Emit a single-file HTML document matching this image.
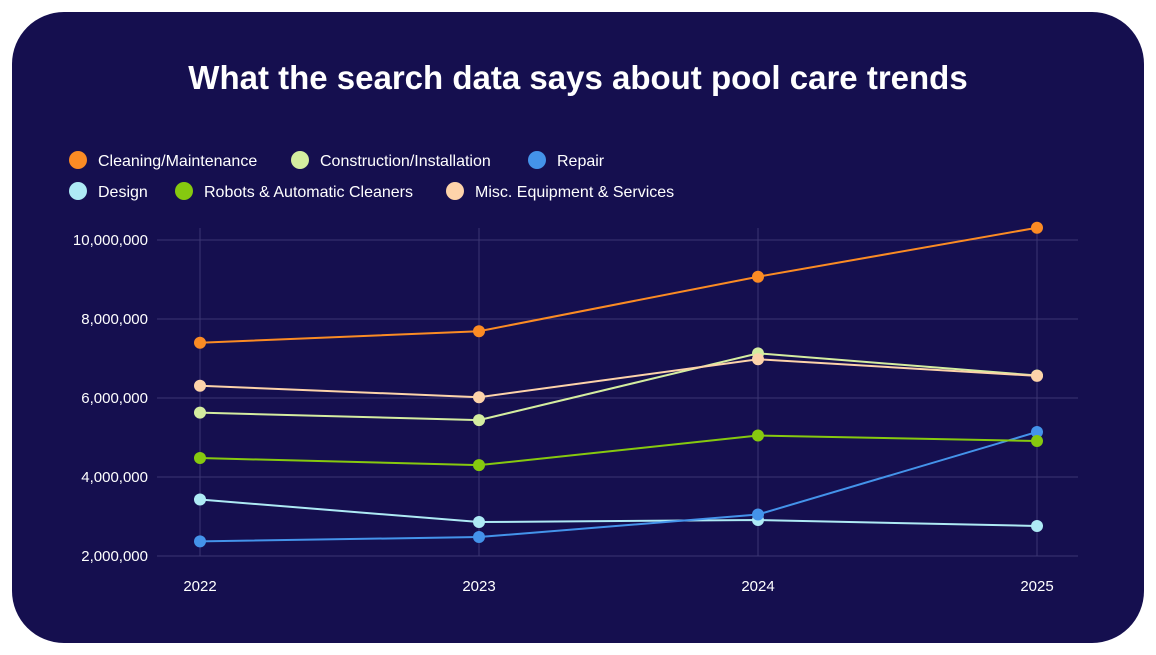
<!DOCTYPE html>
<html><head><meta charset="utf-8"><style>
html,body{margin:0;padding:0;background:#fff;width:1156px;height:655px;overflow:hidden}
#card{position:absolute;left:12px;top:12px;width:1132px;height:631px;background:#150f4f;border-radius:52px}
svg{position:absolute;left:0;top:0}
text{font-family:"Liberation Sans",sans-serif}
</style></head><body>
<div id="card"></div>
<svg id="chart" width="1156" height="655">
<text x="578" y="89" text-anchor="middle" fill="#fff" font-size="33" font-weight="bold">What the search data says about pool care trends</text>
<g id="legend"></g>
<g id="grid"></g>
<g id="axes"></g>
<g id="series"></g>
</svg>
<script>
const years = ["2022","2023","2024","2025"];
const yTicks = [2000000,4000000,6000000,8000000,10000000];
const seriesNames = ["Cleaning/Maintenance","Construction/Installation","Repair","Design","Robots & Automatic Cleaners","Misc. Equipment & Services"];
const seriesColors = ["#fb8b24","#d4eda0","#4493ea","#aeeaf5","#86c90f","#fdd3aa"];
const cleaning = [7.40e6,7.69e6,9.07e6,10.31e6];
const construction = [5.63e6,5.44e6,7.13e6,6.57e6];
const repair = [2.37e6,2.48e6,3.05e6,5.14e6];
const design = [3.43e6,2.86e6,2.91e6,2.76e6];
const robots = [4.48e6,4.30e6,5.05e6,4.91e6];
const misc = [6.31e6,6.02e6,6.98e6,6.56e6];
const seriesValues = [cleaning,construction,repair,design,robots,misc];
const drawOrder = [3,2,4,1,5,0];

const NS="http://www.w3.org/2000/svg";
function mk(tag,attrs,parent){const e=document.createElementNS(NS,tag);for(const k in attrs)e.setAttribute(k,attrs[k]);parent.appendChild(e);return e;}
const x0=200,x1=1037,yMin=2e6,yMax=10e6,py0=556,py1=240;
function xs(i){return x0+(x1-x0)*i/(years.length-1);}
function ys(v){return py0-(v-yMin)/(yMax-yMin)*(py0-py1);}

const grid=document.getElementById('grid'),axes=document.getElementById('axes'),ser=document.getElementById('series'),leg=document.getElementById('legend');
yTicks.forEach(t=>{
  const l=mk('line',{x1:157,x2:1078,y1:ys(t),y2:ys(t),stroke:'#3c3673','stroke-width':1},grid);
  
  
  const tx=mk('text',{x:148,y:ys(t)+5,'text-anchor':'end',fill:'#fff','font-size':15},axes);
  tx.textContent=t.toLocaleString('en-US');
  
  
});
years.forEach((y,i)=>{
  const l=mk('line',{x1:xs(i),x2:xs(i),y1:228,y2:ys(yMin),stroke:'#3c3673','stroke-width':1},grid);
  
  
  const tx=mk('text',{x:xs(i),y:591,'text-anchor':'middle',fill:'#fff','font-size':15},axes);
  tx.textContent=y;
  
  
});
drawOrder.forEach(s=>{
  const vals=seriesValues[s];
  const p=mk('polyline',{points:vals.map((v,i)=>xs(i)+','+ys(v)).join(' '),fill:'none',stroke:seriesColors[s],'stroke-width':2},ser);
  
  
  vals.forEach((v,i)=>{
    const c=mk('circle',{cx:xs(i),cy:ys(v),r:6,fill:seriesColors[s]},ser);
    
    
  });
});
const legPos=[[78,160],[300,160],[537,160],[78,191],[184,191],[455,191]];
seriesNames.forEach((n,s)=>{
  const g=mk('g',{},leg);
  
  
  mk('circle',{cx:legPos[s][0],cy:legPos[s][1],r:9,fill:seriesColors[s]},g);
  const t=mk('text',{x:legPos[s][0]+20,y:legPos[s][1]+6,fill:'#fff','font-size':16},g);
  t.textContent=n;
});
</script>
</body></html>
